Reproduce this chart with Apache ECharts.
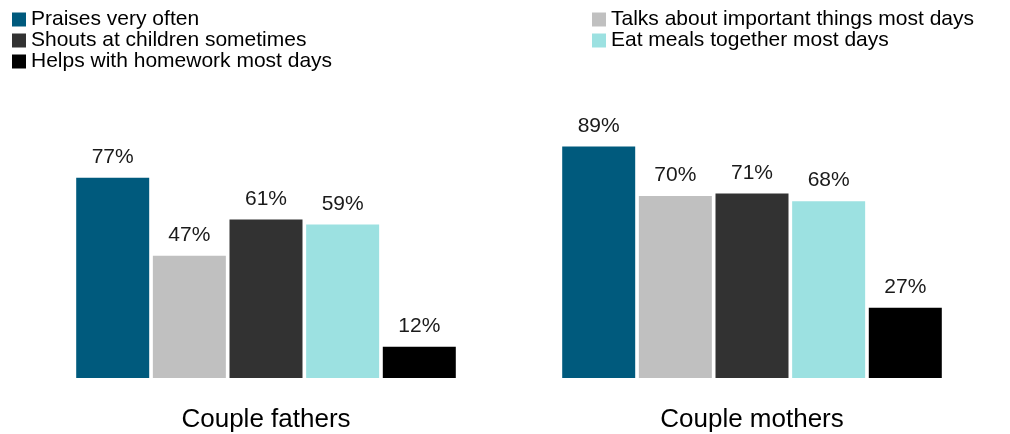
<!DOCTYPE html>
<html>
<head>
<meta charset="utf-8">
<script src="https://cdn.jsdelivr.net/npm/echarts@6/dist/echarts.min.js"></script>
<style>html,body{margin:0;padding:0;background:#fff}#c{width:1010px;height:434px}</style>
</head>
<body>
<div id="c"></div>
<script>
const categories = ['Couple fathers', 'Couple mothers'];
const seriesNames = ['Praises very often', 'Talks about important things most days', 'Shouts at children sometimes', 'Eat meals together most days', 'Helps with homework most days'];
const praises = [77, 89];
const talks = [47, 70];
const shouts = [61, 71];
const eatMeals = [59, 68];
const homework = [12, 27];
const colors = ['#005A7D', '#C0C0C0', '#323232', '#9CE1E1', '#000000'];
const values = [praises, talks, shouts, eatMeals, homework];

const font = '"Liberation Sans", Arial, sans-serif';
const chart = echarts.init(document.getElementById('c'), null, {renderer: 'canvas'});
const legendCommon = {
  orient: 'vertical', itemWidth: 14, itemHeight: 14, itemGap: 0, icon: 'rect',
  textStyle: {fontFamily: font, fontSize: 21, color: '#000', lineHeight: 20.5, padding: [0,0,0,0]},
  selectedMode: false, padding: 0
};
chart.setOption({
  animation: false,
  color: colors,
  legend: [
    Object.assign({}, legendCommon, {left: 12, top: 9, data: [seriesNames[0], seriesNames[2], seriesNames[4]]}),
    Object.assign({}, legendCommon, {left: 592, top: 9, data: [seriesNames[1], seriesNames[3]]})
  ],
  grid: {left: 23, right: 15, top: 118, bottom: 56},
  xAxis: {
    type: 'category', data: categories,
    axisLine: {show: false}, axisTick: {show: false},
    axisLabel: {fontFamily: font, fontSize: 26, color: '#000', margin: 29}
  },
  yAxis: {type: 'value', min: 0, max: 100, show: false, splitLine: {show: false}},
  series: values.map((v, i) => ({
    name: seriesNames[i], type: 'bar', data: v, barWidth: 73, barGap: '5%',
    itemStyle: {color: colors[i]},
    label: {show: true, position: 'top', distance: 10, formatter: '{c}%', fontFamily: font, fontSize: 21, color: '#1a1a1a'}
  }))
});
</script>
</body>
</html>
